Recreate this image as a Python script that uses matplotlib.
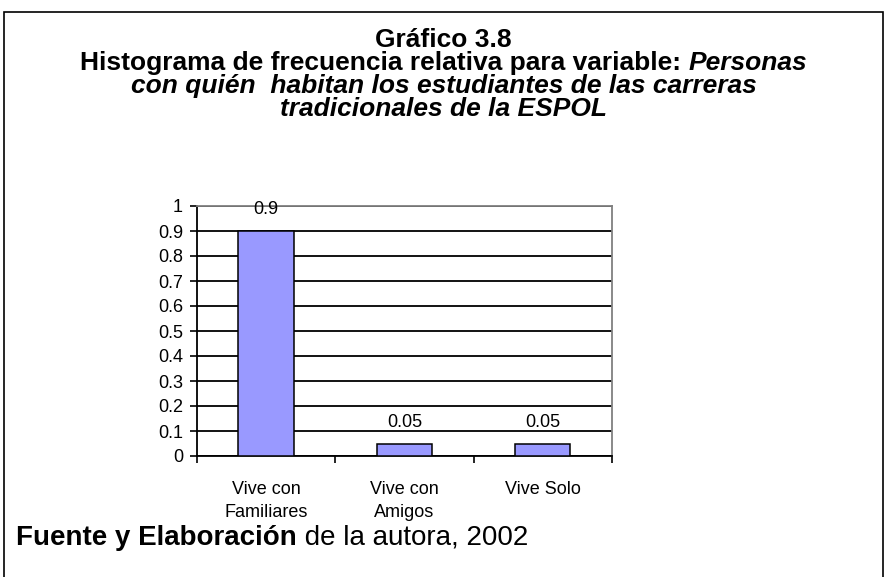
import matplotlib
matplotlib.use('Agg')
import matplotlib.pyplot as plt
from matplotlib.patches import Rectangle

categorias = ['Vive con\nFamiliares', 'Vive con\nAmigos', 'Vive Solo']
frecuencia = [0.90, 0.05, 0.05]
etiquetas = ['0.9', '0.05', '0.05']
yticks = [0, 0.1, 0.2, 0.3, 0.4, 0.5, 0.6, 0.7, 0.8, 0.9, 1]
ytick_labels = ['0', '0.1', '0.2', '0.3', '0.4', '0.5', '0.6', '0.7', '0.8', '0.9', '1']

plt.rcParams['font.family'] = ['Liberation Sans', 'DejaVu Sans']

W, H = 887, 577
fig = plt.figure(figsize=(W / 100, H / 100), dpi=100)
fig.patch.set_facecolor('white')

# marco del documento
fig.add_artist(Rectangle((4 / W, -0.05), 879 / W, 1.05 - 12 / H,
                         transform=fig.transFigure, fill=False,
                         edgecolor='black', linewidth=1.2))


def linea_mixta(y, partes, size, cx=0.5):
    # partes: lista de (texto, estilo); se centra el conjunto en cx
    textos = [fig.text(0, y, t, ha='left', va='center', fontsize=size,
                       fontweight='bold', style=st) for t, st in partes]
    fig.canvas.draw()
    r = fig.canvas.get_renderer()
    anchos = [t.get_window_extent(r).width / W for t in textos]
    x = cx - sum(anchos) / 2
    for t, a in zip(textos, anchos):
        t.set_x(x)
        x += a
    return textos


TS = 19
fig.text(0.5, 1 - 40 / H, 'Gráfico 3.8', ha='center', va='center',
         fontsize=TS, fontweight='bold')
linea_mixta(1 - 63 / H, [('Histograma de frecuencia relativa para variable: ', 'normal'),
                         ('Personas', 'italic')], TS)
fig.text(0.5, 1 - 86 / H, 'con quién  habitan los estudiantes de las carreras',
         ha='center', va='center', fontsize=TS, fontweight='bold', style='italic')
fig.text(0.5, 1 - 109 / H, 'tradicionales de la ESPOL', ha='center', va='center',
         fontsize=TS, fontweight='bold', style='italic')

ax = fig.add_axes([197 / W, 121 / H, 415 / W, 250 / H])
x = list(range(len(categorias)))
ax.bar(x, frecuencia, width=0.4, color='#9999FF', edgecolor='black',
       linewidth=1.1, zorder=3)

for xi, v, t in zip(x, frecuencia, etiquetas):
    ax.annotate(t, (xi, v), xytext=(0, 9), textcoords='offset points',
                ha='center', va='bottom', fontsize=13, zorder=4)

ax.set_xlim(-0.5, 2.5)
ax.set_ylim(0, 1)
ax.set_yticks(yticks)
ax.set_yticklabels(ytick_labels, fontsize=13)
ax.set_xticks(x)
ax.set_xticklabels(categorias, fontsize=13, linespacing=1.45)
ax.set_xticks([-0.5, 0.5, 1.5, 2.5], minor=True)
ax.tick_params(axis='x', which='major', length=0, pad=18)
ax.tick_params(axis='x', which='minor', length=5, width=1.2, direction='out')
ax.tick_params(axis='y', length=5, width=1.2, direction='out', pad=5)

ax.yaxis.grid(True, color='black', linewidth=1.3, zorder=1)
ax.set_axisbelow(True)
for s in ['left', 'bottom']:
    ax.spines[s].set_color('black')
    ax.spines[s].set_linewidth(1.3)
for s in ['top', 'right']:
    ax.spines[s].set_color('#808080')
    ax.spines[s].set_linewidth(1.3)

# fuente
FS = 20
t1 = fig.text(16 / W, 1 - 538 / H, 'Fuente y Elaboración', ha='left',
              va='center', fontsize=FS, fontweight='bold')
fig.canvas.draw()
bb = t1.get_window_extent()
fig.text(bb.x1 / W, 1 - 538 / H, ' de la autora, 2002', ha='left',
         va='center', fontsize=FS)

fig.savefig('out.png', dpi=100)
